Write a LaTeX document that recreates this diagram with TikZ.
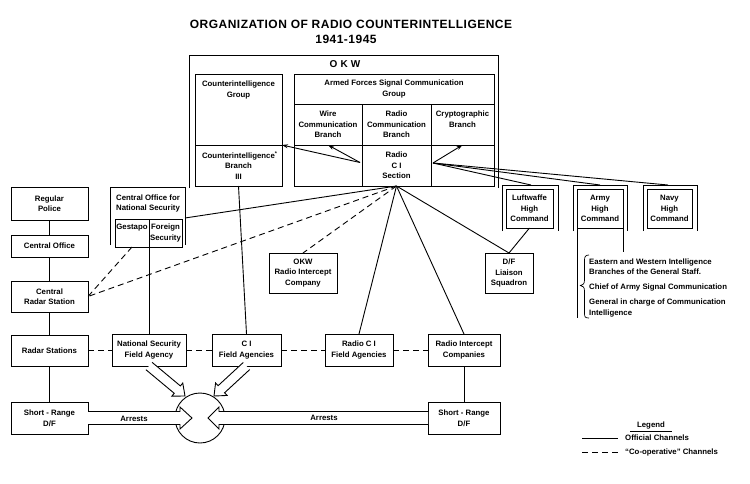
\documentclass[tikz,border=0pt]{standalone}
\usepackage{fontspec}
\setmainfont{Liberation Sans}
\usetikzlibrary{arrows.meta,calc}
\newcommand\bx[6]{%
 \pgfmathsetmacro\bxcx{(#2+#4)/2}%
 \pgfmathsetmacro\bxcy{(#3+#5)/2}%
 \pgfmathsetmacro\bxw{#4-#2}%
 \pgfmathsetmacro\bxh{#5-#3}%
 \node[box, minimum width=\bxw pt, minimum height=\bxh pt] (#1) at (\bxcx,\bxcy) {#6};}
\newcommand\hollow[5]{%
 \coordinate (hE) at ($(#2)!#5!(#1)$);
 \draw[conn, fill=white] ($(#1)!#3!90:(#2)$) -- ($(hE)!#3!-90:(#1)$) -- ($(hE)!#4!-90:(#1)$) -- (#2) -- ($(hE)!#4!90:(#1)$) -- ($(hE)!#3!90:(#1)$) -- ($(#1)!#3!-90:(#2)$);}
\begin{document}
\begin{tikzpicture}[x=1pt,y=-1pt,
 txt/.style={font=\fontsize{7.8}{10.5}\selectfont\bfseries, align=center, inner sep=0pt},
 note/.style={txt, align=left, anchor=west},
 box/.style={draw, line width=0.9pt, txt, outer sep=0pt},
 conn/.style={line width=0.9pt},
 coop/.style={conn, dash pattern=on 6pt off 4pt},
 arr/.style={conn, -{Stealth[length=6pt,width=4pt]}},
 ttl/.style={font=\fontsize{12}{14}\selectfont\bfseries\addfontfeature{LetterSpace=4}, inner sep=0pt},
]
\useasboundingbox (0,0) rectangle (750,483);
% title
\node[ttl] (title) at (351,24.5) {ORGANIZATION OF RADIO COUNTERINTELLIGENCE};
\node[ttl] (years) at (346,39) {1941-1945};
% OKW frame
\draw[conn] (189,188) -- (189,55) -- (498,55) -- (498,188);
\node[font=\fontsize{10}{12}\selectfont\bfseries\addfontfeature{LetterSpace=4}, inner sep=0pt] (okw) at (345,64) {O K W};
% Counterintelligence group
\bx{cig}{195}{74}{282}{145}{}
\node[txt] (cigt) at (238.5,90) {Counterintelligence\\Group};
\bx{cib}{195}{145}{282}{186}{Counterintelligence\rlap{\textsuperscript{*}}\\Branch\\III}
% Armed forces signal communication group
\bx{afh}{294}{74}{494}{104}{Armed Forces Signal Communication\\Group}
\bx{wcb}{294}{104}{362}{145}{Wire\\Communication\\Branch}
\bx{rcb}{362}{104}{431}{145}{Radio\\Communication\\Branch}
\bx{cgb}{431}{104}{494}{145}{}
\node[txt] (cgbt) at (462.5,119) {Cryptographic\\Branch};
\bx{bl}{294}{145}{362}{186}{}
\bx{rci}{362}{145}{431}{186}{Radio\\C I\\Section}
\bx{br}{431}{145}{494}{186}{}
\coordinate (rciL) at (360,162.5);
\coordinate (rciR) at (433,163);
\coordinate (apex) at (rci.south);
\draw[arr] (rciL) -- (wcb.south);
\draw[arr] (rciL) -- (cib.north east);
\draw[arr] (rciR) -- (cgb.south);
% high commands
\bx{lhc}{506}{189}{553}{228}{Luftwaffe\\High\\Command}
\draw[conn] (502,231) -- (502,185) -- (558,185) -- (558,231);
\coordinate (lhcf) at (531,185);
\bx{ahc}{577}{189}{623}{228}{Army\\High\\Command}
\draw[conn] (573,231) -- (573,185) -- (627,185) -- (627,231);
\coordinate (ahcf) at (600,185);
\bx{nhc}{647}{189}{692}{228}{Navy\\High\\Command}
\draw[conn] (643,231) -- (643,185) -- (697,185) -- (697,231);
\coordinate (nhcf) at (668,185);
\draw[conn] (rciR) -- (lhcf);
\draw[conn] (rciR) -- (ahcf);
\draw[conn] (rciR) -- (nhcf);
\draw[conn] (ahc.south west) -- ++(0,90);
\draw[conn] (ahc.south east) -- ++(0,24);
\draw[line width=0.7pt] (589,255) .. controls (585,255) and (584.5,257) .. (584.5,261) -- (584.5,280) .. controls (584.5,284) and (583,285) .. (580.5,285.5) .. controls (583,286) and (584.5,287) .. (584.5,291) -- (584.5,313) .. controls (584.5,317) and (585,318) .. (589,318);
\node[note] (n1) at (589,266.5) {Eastern and Western Intelligence\\Branches of the General Staff.};
\node[note] (n2) at (589,287) {Chief of Army Signal Communication};
\node[note] (n3) at (589,308) {General in charge of Communication\\Intelligence};
% D/F liaison
\bx{dfl}{485}{253}{533}{293}{D/F\\Liaison\\Squadron}
\draw[conn] (lhc.south) -- (dfl.north);
\draw[conn] (apex) -- (dfl.north);
% Central office for national security
\draw[conn] (110,245) -- (110,187) -- (185,187) -- (185,245);
\node[txt] (cont) at (148,203.5) {Central Office for\\National Security};
\bx{gst}{115}{219}{149}{247}{}
\node[txt] (gstt) at (132,228) {Gestapo};
\bx{fsc}{149}{219}{182}{247}{Foreign\\Security}
\coordinate (coright) at (185,218);
\draw[conn] (apex) -- (coright);
% left column
\bx{rp}{11}{187}{88}{220}{Regular\\Police}
\bx{co}{11}{235}{88}{257}{Central Office}
\bx{crs}{11}{281}{88}{312}{Central\\Radar Station}
\bx{rs}{11}{335}{88}{366}{Radar Stations}
\bx{srl}{11}{402}{88}{434}{Short - Range\\D/F}
\draw[conn] (rp.south) -- (co.north);
\draw[conn] (co.south) -- (crs.north);
\draw[conn] (crs.south) -- (rs.north);
\draw[conn] (rs.south) -- (srl.north);
\draw[coop] (apex) -- (crs.east);
\draw[coop] (gst.south) -- (crs.east);
% OKW radio intercept company
\bx{okwr}{269}{253}{337}{293}{OKW\\Radio Intercept\\Company}
\draw[coop] (apex) -- (okwr.north);
% field row
\bx{nsfa}{112}{334}{186}{366}{National Security\\Field Agency}
\bx{cifa}{212}{334}{281}{366}{C I\\Field Agencies}
\bx{rcifa}{325}{334}{393}{366}{Radio C I\\Field Agencies}
\bx{ric}{428}{334}{500}{366}{Radio Intercept\\Companies}
\bx{srr}{428}{402}{500}{434}{Short - Range\\D/F}
\draw[conn] (fsc.south west) -- (nsfa.north);
\draw[conn] (cib.south) -- (cifa.north);
\draw[conn] (apex) -- (rcifa.north);
\draw[conn] (apex) -- (ric.north);
\draw[conn] (ric.south) -- (srr.north);
\draw[coop] (rs.east) -- (rs.east -| nsfa.west);
\draw[coop] (nsfa.east) -- (cifa.west);
\draw[coop] (cifa.east) -- (rcifa.west);
\draw[coop] (rcifa.east) -- (ric.west);
% circle and arrests
\node[draw, circle, line width=0.9pt, minimum size=50pt, inner sep=0pt] (cc) at (200,418) {};
\coordinate (tL) at (192,418);
\coordinate (tR) at (208,418);
\coordinate (tDL) at (185,396);
\coordinate (tDR) at (214,396);
\hollow{srl.east}{tL}{6.5pt}{11pt}{12pt}
\hollow{srr.west}{tR}{6.5pt}{11pt}{11pt}
\hollow{nsfa.south}{tDL}{4.8pt}{8.5pt}{10pt}
\hollow{cifa.south}{tDR}{4.8pt}{8.5pt}{10pt}
\node[txt] (ar1) at (134,418.5) {Arrests};
\node[txt] (ar2) at (324,418) {Arrests};
% legend
\node[txt] (leg) at (651,425) {Legend};
\draw[conn] (630,431) -- (672,431);
\coordinate (l1a) at (582,438); \coordinate (l1b) at (618,438);
\draw[conn] (l1a) -- (l1b);
\node[note] (l1) at (625,438) {Official Channels};
\coordinate (l2a) at (582,452); \coordinate (l2b) at (618,452);
\draw[coop] (l2a) -- (l2b);
\node[note] (l2) at (625,452) {“Co-operative” Channels};
\end{tikzpicture}
\end{document}
